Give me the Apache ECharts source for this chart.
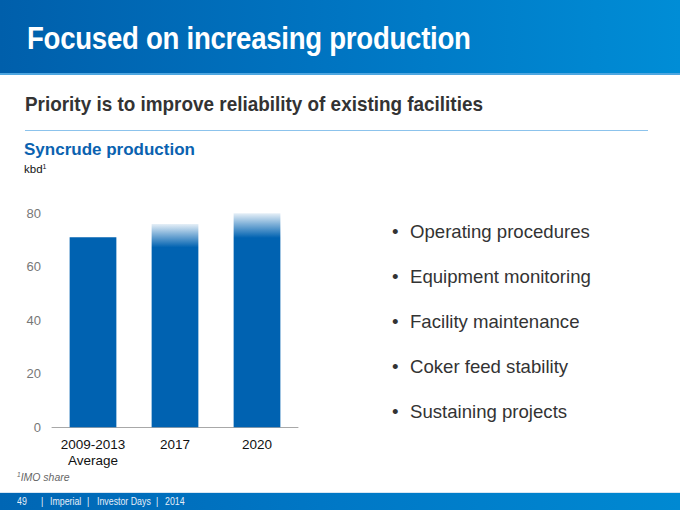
<!DOCTYPE html>
<html>
<head>
<meta charset="utf-8">
<script src="https://cdn.jsdelivr.net/npm/echarts@6/dist/echarts.min.js"></script>
<style>
  html, body { margin: 0; padding: 0; background: #fff; }
  #page { position: relative; width: 680px; height: 510px; overflow: hidden; font-family: "Liberation Sans", Arial, sans-serif; }
  #header { position: absolute; left: 0; top: 0; width: 680px; height: 73px;
    background: linear-gradient(90deg, #005fab 0%, #0075c2 50%, #008dd6 100%);
    border-bottom: 2px solid #4ea6e0; }
  #title { position: absolute; left: 27px; top: 21px; color: #fff;
    font-weight: bold; font-size: 31px; white-space: nowrap; transform: scaleX(0.89); transform-origin: 0 50%; letter-spacing: -0.3px; }
  #subtitle { position: absolute; left: 25px; top: 92px; color: #333;
    font-weight: bold; font-size: 21px; white-space: nowrap; transform: scaleX(0.9); transform-origin: 0 50%; }
  #rule { position: absolute; left: 25px; top: 130px; width: 623px; height: 1px; background: #8cc3ec; }
  #charttitle { position: absolute; left: 24px; top: 140px; color: #0a62b0; font-weight: bold; font-size: 17px; white-space: nowrap; }
  #unit { position: absolute; left: 24px; top: 163px; color: #111; font-size: 11.5px; white-space: nowrap; }
  #unit sup { font-size: 7px; vertical-align: 4px; }
  #footnote { position: absolute; left: 17px; top: 471px; color: #666; font-style: italic; font-size: 10.5px; white-space: nowrap; }
  #footnote sup { font-size: 6.5px; vertical-align: 4px; }
  #footer { position: absolute; left: 0; top: 492px; width: 680px; height: 18px;
    background: linear-gradient(90deg, #0066b4 0%, #0078c6 50%, #0089d2 100%); border-top: 1px solid #d8e6f3; }
  #footer span { position: absolute; top: 3px; color: #e6eef8; font-size: 10px; white-space: nowrap; transform: scaleX(0.88); transform-origin: 0 50%; }
  #bullets { position: absolute; left: 0; top: 0; }
  .bl { position: absolute; left: 392px; color: #333; font-size: 18.6px; white-space: nowrap; }
  .bl .dot { display: inline-block; width: 18px; }
  #chart { position: absolute; left: 0; top: 0; width: 680px; height: 510px; }
</style>
</head>
<body>
<div id="page">
  <div id="header"><div id="title"></div></div>
  <div id="subtitle"></div>
  <div id="rule"></div>
  <div id="charttitle"></div>
  <div id="unit">kbd<sup>1</sup></div>
  <div id="bullets"></div>
  <div id="footnote"><sup>1</sup>IMO share</div>
  <div id="footer">
    <span style="left:17px">49</span>
    <span style="left:41px">|</span>
    <span style="left:50px">Imperial</span>
    <span style="left:87px">|</span>
    <span style="left:97px">Investor Days</span>
    <span style="left:156px">|</span>
    <span style="left:165px">2014</span>
  </div>
  <div id="chart"></div>
</div>
<script>
// ---- data ----
const slideTitle = 'Focused on increasing production';
const slideSubtitle = 'Priority is to improve reliability of existing facilities';
const chartTitle = 'Syncrude production';
const categories = ['2009-2013\nAverage', '2017', '2020'];
const production = [71, 76, 80];
const projected = [false, true, true];
const yMin = 0, yMax = 80, yStep = 20;
const bulletItems = ['Operating procedures', 'Equipment monitoring', 'Facility maintenance', 'Coker feed stability', 'Sustaining projects'];

// ---- text ----
document.getElementById('title').textContent = slideTitle;
document.getElementById('subtitle').textContent = slideSubtitle;
document.getElementById('charttitle').textContent = chartTitle;
const bl = document.getElementById('bullets');
bulletItems.forEach((t, i) => {
  const d = document.createElement('div');
  d.className = 'bl';
  d.style.top = (221 + i * 45) + 'px';
  d.innerHTML = '<span class="dot">\u2022</span>' + t;
  bl.appendChild(d);
});

// ---- chart ----
const BLUE = '#0062b1';
const barData = production.map((v, i) => projected[i] ? {
  value: v,
  itemStyle: { color: new echarts.graphic.LinearGradient(0, 0, 0, 1, [
    { offset: 0, color: 'rgba(0,98,177,0.1)' },
    { offset: 0.05, color: 'rgba(0,98,177,0.5)' },
    { offset: 0.115, color: BLUE },
    { offset: 1, color: BLUE }
  ]) }
} : { value: v, itemStyle: { color: BLUE } });

const chart = echarts.init(document.getElementById('chart'), null, { renderer: 'svg' });
chart.setOption({
  animation: false,
  grid: { left: 52, top: 213.3, width: 246, height: 214, containLabel: false },
  xAxis: {
    type: 'category', data: categories,
    axisLine: { lineStyle: { color: '#a8a8a8', width: 1 } },
    axisTick: { show: false },
    axisLabel: { interval: 0, color: '#111', fontSize: 13.5, lineHeight: 16, margin: 9, fontFamily: 'Liberation Sans, Arial, sans-serif' }
  },
  yAxis: {
    type: 'value', min: yMin, max: yMax, interval: yStep,
    axisLine: { show: false }, axisTick: { show: false },
    splitLine: { show: false },
    axisLabel: { color: '#777', fontSize: 13, margin: 11, fontFamily: 'Liberation Sans, Arial, sans-serif' }
  },
  series: [{ type: 'bar', data: barData, barWidth: '57%' }]
});
</script>
</body>
</html>
